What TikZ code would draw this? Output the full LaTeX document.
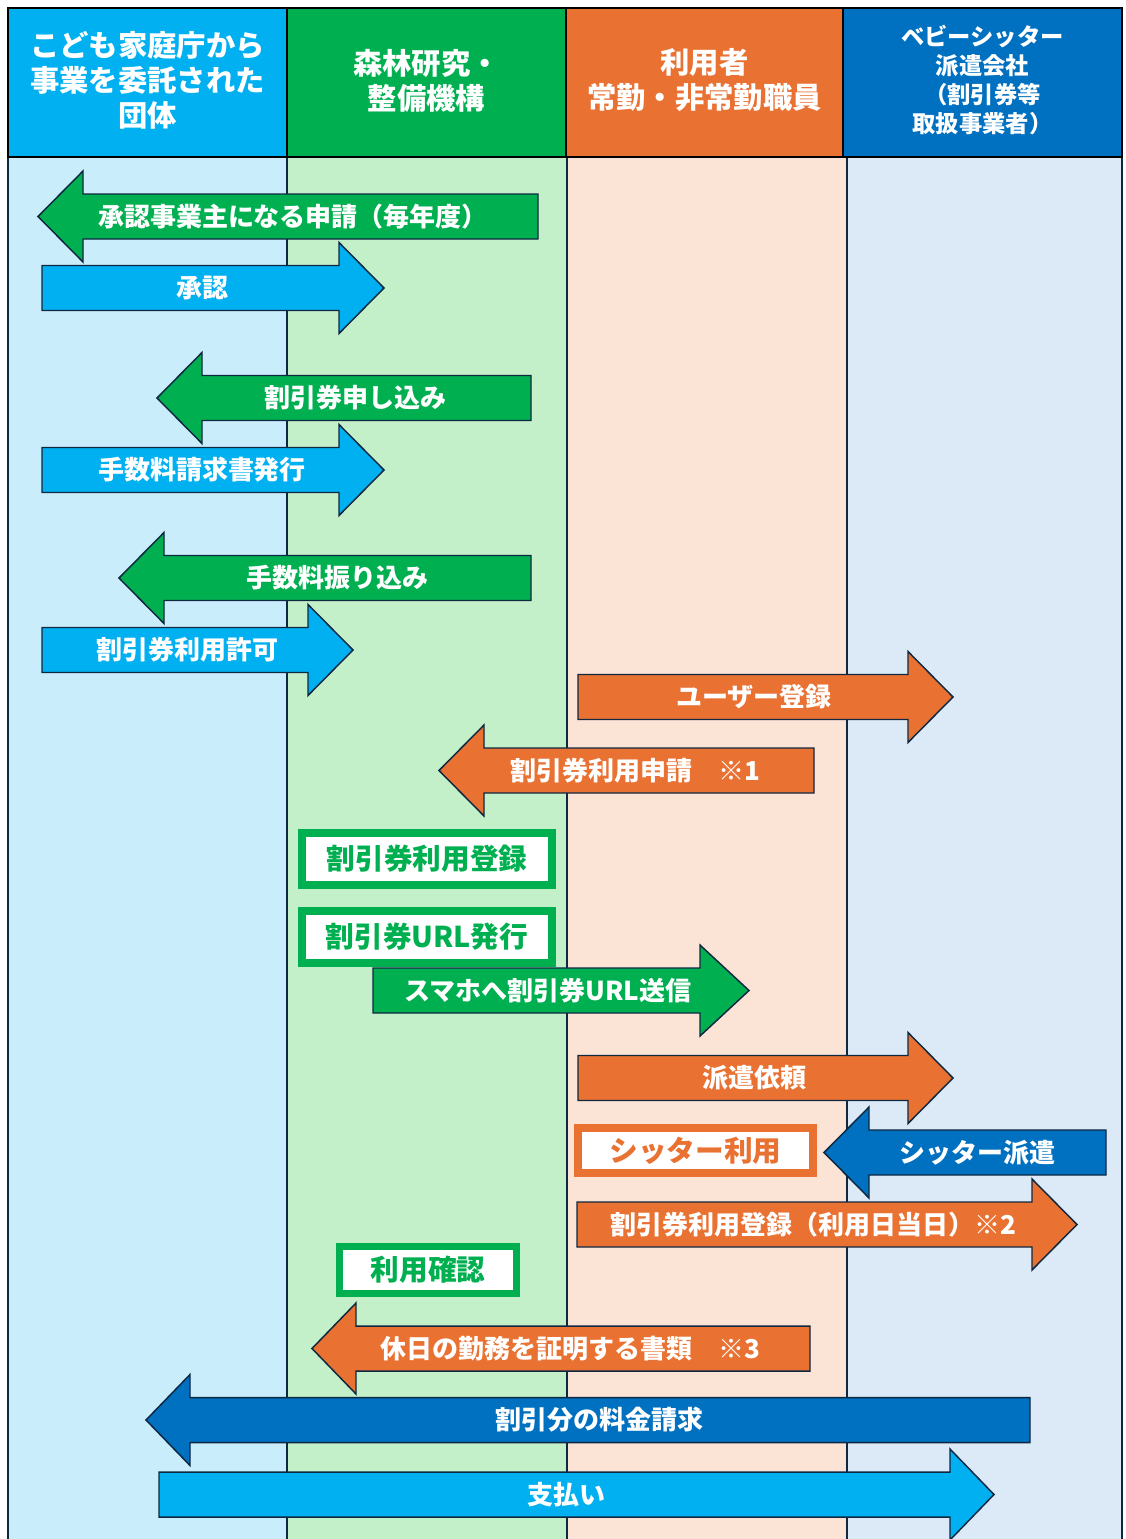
\documentclass[tikz,border=0pt]{standalone}
\usepackage{fontspec}
\setmainfont{Noto Sans CJK JP}
\usepackage{tikz}
\definecolor{hdcyan}{HTML}{00B0F0}
\definecolor{hdgreen}{HTML}{00B050}
\definecolor{hdorange}{HTML}{E97132}
\definecolor{hdblue}{HTML}{0070C0}
\definecolor{bodycyan}{HTML}{CAEDFB}
\definecolor{bodygreen}{HTML}{C3F0C8}
\definecolor{bodyorange}{HTML}{FBE3D6}
\definecolor{bodyblue}{HTML}{DCEAF7}
\definecolor{edgenavy}{HTML}{0E2841}

\begin{document}
\begin{tikzpicture}[x=0.75pt,y=-0.75pt,line join=miter,
  arrline/.style={draw=edgenavy,line width=1.1pt},
  laneline/.style={draw=edgenavy,line width=1.9pt},
  hdline/.style={draw=black,line width=2.2pt},
  arrtext/.style={text=white,inner sep=0pt,font=\bfseries\fontsize{19.5}{22}\selectfont},
  hdtext/.style={text=white,inner sep=0pt,align=center,font=\bfseries\fontsize{22}{26.25}\selectfont},
  hdsmall/.style={text=white,inner sep=0pt,align=center,font=\bfseries\fontsize{17.5}{21.75}\selectfont},
  taskbox/.style={draw=#1,fill=white,text=#1,inner sep=0pt,font=\bfseries\fontsize{21.5}{24}\selectfont}]
\useasboundingbox (0,0) rectangle (1126,1539);
% lanes
\fill[bodycyan] (8,157) rectangle (287,1539);
\fill[bodygreen] (287,157) rectangle (567,1539);
\fill[bodyorange] (567,157) rectangle (847,1539);
\fill[bodyblue] (847,157) rectangle (1122,1539);
\draw[laneline] (8,157) -- (8,1539);
\draw[laneline] (287,157) -- (287,1539);
\draw[laneline] (567,157) -- (567,1539);
\draw[laneline] (847,157) -- (847,1539);
\draw[laneline] (1122,157) -- (1122,1539);
% header
\draw[hdline,fill=hdcyan] (8,8) rectangle (287,157);
\draw[hdline,fill=hdgreen] (287,8) rectangle (566,157);
\draw[hdline,fill=hdorange] (566,8) rectangle (843,157);
\draw[hdline,fill=hdblue] (843,8) rectangle (1122,157);
\node[hdtext] (kodomo) at (147.5,80) {こども家庭庁から\\事業を委託された\\団体};
\node[hdtext] (shinrin) at (426.5,80.5) {森林研究・\\整備機構};
\node[hdtext] (riyousha) at (704.5,80.5) {利用者\\常勤・非常勤職員};
\node[hdsmall] (sitter) at (982.5,80.5) {ベビーシッター\\派遣会社\\（割引券等\\取扱事業者）};
% arrows
\draw[arrline,fill=hdgreen] (538,194) -- (83,194) -- (83,171) -- (38,216.5) -- (83,262) -- (83,239) -- (538,239) -- cycle;
\node[arrtext] (shinsei) at (293,216.5) {承認事業主になる申請（毎年度）};
\draw[arrline,fill=hdcyan] (42,265.5) -- (339,265.5) -- (339,242.5) -- (384,288) -- (339,333.5) -- (339,310.5) -- (42,310.5) -- cycle;
\node[arrtext] (shonin) at (202,288) {承認};
\draw[arrline,fill=hdgreen] (531,375.5) -- (202,375.5) -- (202,352.5) -- (157,398) -- (202,443.5) -- (202,420.5) -- (531,420.5) -- cycle;
\node[arrtext] (moshikomi) at (355,398) {割引券申し込み};
\draw[arrline,fill=hdcyan] (42,447.5) -- (339,447.5) -- (339,424.5) -- (384,470) -- (339,515.5) -- (339,492.5) -- (42,492.5) -- cycle;
\node[arrtext] (seikyu) at (202,470) {手数料請求書発行};
\draw[arrline,fill=hdgreen] (531,555.5) -- (164,555.5) -- (164,532.5) -- (119,578) -- (164,623.5) -- (164,600.5) -- (531,600.5) -- cycle;
\node[arrtext] (furikomi) at (337,578) {手数料振り込み};
\draw[arrline,fill=hdcyan] (42,627.5) -- (308,627.5) -- (308,604.5) -- (353,650) -- (308,695.5) -- (308,672.5) -- (42,672.5) -- cycle;
\node[arrtext] (kyoka) at (187,650) {割引券利用許可};
\draw[arrline,fill=hdorange] (578,674.5) -- (908,674.5) -- (908,651.5) -- (953,697) -- (908,742.5) -- (908,719.5) -- (578,719.5) -- cycle;
\node[arrtext] (user) at (754,697) {ユーザー登録};
\draw[arrline,fill=hdorange] (814,748) -- (484,748) -- (484,725) -- (439,770.5) -- (484,816) -- (484,793) -- (814,793) -- cycle;
\node[arrtext] (riyoushinsei) at (635,770.5) {割引券利用申請　※1};
% boxes
\node[taskbox=hdgreen,line width=6pt,minimum width=187.5pt,minimum height=39pt] (touroku) at (427,859) {割引券利用登録};
\node[taskbox=hdgreen,line width=6pt,minimum width=187.5pt,minimum height=39pt] (urlhakko) at (427,937) {割引券URL発行};
\draw[arrline,fill=hdgreen] (373,968) -- (700,968) -- (700,945) -- (749,990.5) -- (700,1036) -- (700,1013) -- (373,1013) -- cycle;
\node[arrtext] (soushin) at (548,990.5) {スマホへ割引券URL送信};
\draw[arrline,fill=hdorange] (578,1055.5) -- (908,1055.5) -- (908,1032.5) -- (953,1078) -- (908,1123.5) -- (908,1100.5) -- (578,1100.5) -- cycle;
\node[arrtext] (irai) at (754,1078) {派遣依頼};
\node[taskbox=hdorange,line width=6pt,minimum width=176.25pt,minimum height=33.75pt] (sitterriyou) at (695.5,1150.5) {シッター利用};
\draw[arrline,fill=hdblue] (1106,1130) -- (869,1130) -- (869,1107) -- (824,1152.5) -- (869,1198) -- (869,1175) -- (1106,1175) -- cycle;
\node[arrtext] (haken) at (977,1152.5) {シッター派遣};
\draw[arrline,fill=hdorange] (577,1202) -- (1032,1202) -- (1032,1179) -- (1077,1224.5) -- (1032,1270) -- (1032,1247) -- (577,1247) -- cycle;
\node[arrtext] (toujitsu) at (813,1224.5) {割引券利用登録（利用日当日）※2};
\node[taskbox=hdgreen,line width=5.25pt,minimum width=132.75pt,minimum height=35.25pt] (kakunin) at (428,1270) {利用確認};
\draw[arrline,fill=hdorange] (810,1326) -- (356,1326) -- (356,1303) -- (312,1348.5) -- (356,1394) -- (356,1371) -- (810,1371) -- cycle;
\node[arrtext] (shorui) at (570,1348.5) {休日の勤務を証明する書類　※3};
\draw[arrline,fill=hdblue] (1030,1397.5) -- (190,1397.5) -- (190,1374.5) -- (146,1420) -- (190,1465.5) -- (190,1442.5) -- (1030,1442.5) -- cycle;
\node[arrtext] (ryoukin) at (599,1420) {割引分の料金請求};
\draw[arrline,fill=hdcyan] (159,1472) -- (950,1472) -- (950,1449) -- (994,1494.5) -- (950,1540) -- (950,1517) -- (159,1517) -- cycle;
\node[arrtext] (shiharai) at (566,1494.5) {支払い};
\end{tikzpicture}
\end{document}
